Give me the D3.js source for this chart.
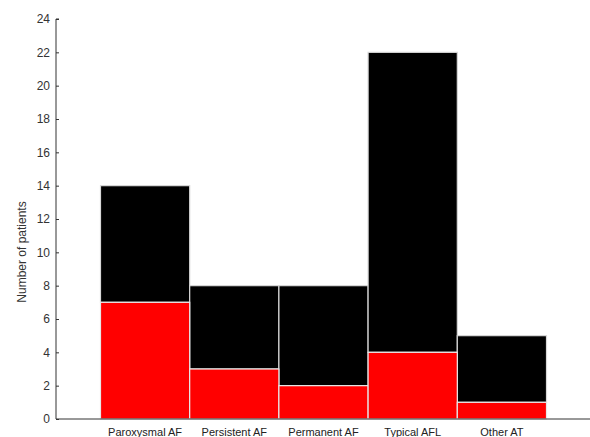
<!DOCTYPE html>
<html>
<head>
<meta charset="utf-8">
<script src="https://cdn.jsdelivr.net/npm/d3@7"></script>
<style>
  html, body { margin: 0; padding: 0; background: #fff; }
  svg { display: block; }
  text { font-family: "Liberation Sans", Arial, sans-serif; fill: #222; }
</style>
</head>
<body>
<svg id="chart" width="590" height="437"></svg>
<script>
// Patient counts per arrhythmia type
const categories = ["Paroxysmal AF", "Persistent AF", "Permanent AF", "Typical AFL", "Other AT"];
const redValues = [7, 3, 2, 4, 1];
const totalValues = [14, 8, 8, 22, 5];
const yTicks = [0, 2, 4, 6, 8, 10, 12, 14, 16, 18, 20, 22, 24];

const svg = d3.select("#chart");
const axisX0 = 56, axisXEnd = 590;
const y0 = 419, yTop = 19;

const x = d3.scaleBand().domain(categories).range([100.5, 546.5]).paddingInner(0).paddingOuter(0);
const y = d3.scaleLinear().domain([0, 24]).range([y0, yTop]);

const rows = categories.map((c, i) => ({ cat: c, red: redValues[i], total: totalValues[i] }));

// Black (upper) segments span from the red value to the total
svg.append("g").selectAll("rect").data(rows).join("rect")
  .attr("x", d => x(d.cat))
  .attr("width", x.bandwidth())
  .attr("y", d => y(d.total))
  .attr("height", d => y(d.red) - y(d.total))
  .attr("fill", "#000")
  .attr("stroke", "#d8d8d8")
  .attr("stroke-width", 1.2);

// Red (lower) segments from zero to the red value
svg.append("g").selectAll("rect").data(rows).join("rect")
  .attr("x", d => x(d.cat))
  .attr("width", x.bandwidth())
  .attr("y", d => y(d.red))
  .attr("height", d => y(0) - y(d.red))
  .attr("fill", "#ff0000")
  .attr("stroke", "#e8e8e8")
  .attr("stroke-width", 1.2);

// Y axis with inward ticks
const yAxis = d3.axisRight(y).tickValues(yTicks).tickSize(3).tickFormat(d3.format("d"));
const gy = svg.append("g").attr("transform", `translate(${axisX0},0)`).call(yAxis);
gy.select(".domain").attr("stroke", "#333").attr("d", `M3,${yTop}H0V${y0}`);
gy.selectAll(".tick line").attr("stroke", "#333");
gy.selectAll(".tick text")
  .attr("x", -6)
  .attr("text-anchor", "end")
  .style("font-size", "12px")
  .style("fill", "#333");

// X axis baseline and category labels
svg.append("line")
  .attr("x1", axisX0).attr("x2", axisXEnd)
  .attr("y1", y0).attr("y2", y0)
  .attr("stroke", "#333").attr("stroke-width", 1);

const xAxis = d3.axisBottom(x).tickSize(0).tickPadding(9);
const gx = svg.append("g").attr("transform", `translate(0,${y0})`).call(xAxis);
gx.select(".domain").remove();
gx.selectAll(".tick text")
  .style("font-size", "11px")
  .style("fill", "#222")
  .attr("dy", "0.71em");

// Y axis title
svg.append("text")
  .attr("transform", `translate(26,252) rotate(-90)`)
  .attr("text-anchor", "middle")
  .style("font-size", "12px")
  .style("fill", "#333")
  .text("Number of patients");
</script>
</body>
</html>
